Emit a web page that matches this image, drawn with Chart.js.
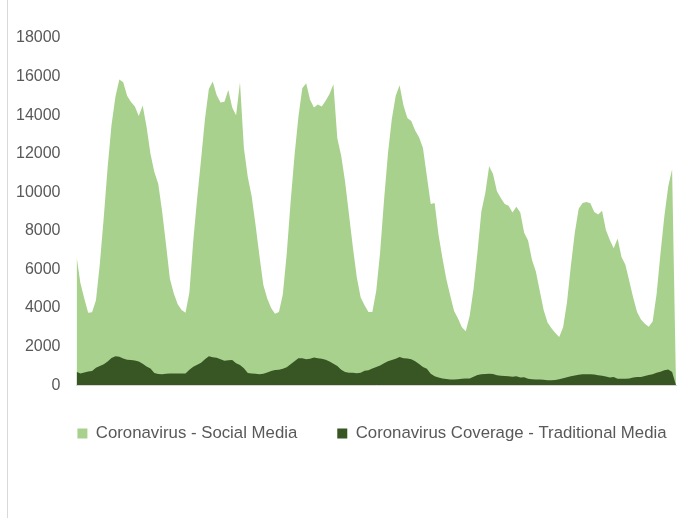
<!DOCTYPE html>
<html>
<head>
<meta charset="utf-8">
<script src="https://cdn.jsdelivr.net/npm/chart.js@4"></script>
<style>
  html, body { margin: 0; padding: 0; background: #fff; }
  #wrap { position: relative; width: 692px; height: 518px; }
  #edge { position: absolute; left: 7px; top: 0; width: 1px; height: 518px; background: #d9d9d9; }
</style>
</head>
<body>
<div id="wrap">
  <canvas id="chart" width="692" height="518"></canvas>
  <div id="edge"></div>
</div>
<script>
// hourly values (155 points, last one drops to 0)
const socialMedia = [
  6700, 5300, 4500, 3750, 3780, 4400, 6300, 8700, 11300, 13500,
  14950, 15850, 15700, 15000, 14680, 14450, 13950, 14500, 13400, 12000,
  11050, 10450, 9000, 7300, 5500, 4750, 4200, 3900, 3750, 4800,
  7500, 9700, 11700, 13800, 15350, 15750, 15050, 14650, 14700, 15300,
  14400, 14000, 15700, 12300, 10800, 9800, 8300, 6700, 5200, 4500,
  4000, 3700, 3800, 4700, 6800, 9500, 11900, 13900, 15400, 15650,
  14800, 14400, 14550, 14450, 14750, 15100, 15600, 12800, 11900, 10550,
  8850, 7150, 5600, 4550, 4150, 3800, 3800, 4900, 6900, 9600,
  12000, 13800, 15000, 15550, 14500, 13850, 13700, 13200, 12850, 12300,
  10850, 9400, 9450, 7800, 6600, 5500, 4650, 3850, 3460, 3000,
  2800, 3600, 5000, 6900, 9000, 9950, 11350, 10950, 10050, 9700,
  9400, 9300, 8950, 9250, 8950, 7900, 7500, 6500, 5900, 4900,
  3900, 3250, 2950, 2700, 2500, 3000, 4300, 6200, 7900, 9150,
  9450, 9500, 9430, 8980, 8850, 9050, 8040, 7530, 7100, 7600,
  6650, 6250, 5400, 4550, 3800, 3400, 3180, 3030, 3300, 4700,
  6800, 8750, 10300, 11200, 0
];
const traditionalMedia = [
  700, 610, 660, 710, 740, 900, 1000, 1090, 1230, 1410,
  1505, 1480, 1390, 1320, 1305, 1280, 1230, 1110, 970, 865,
  630, 575, 570, 590, 605, 605, 605, 605, 605, 800,
  960, 1060, 1170, 1340, 1500, 1450, 1420, 1350, 1265, 1295,
  1300, 1140, 1050, 875, 635, 610, 590, 572, 600, 660,
  730, 785, 805, 850, 935, 1080, 1240, 1400, 1400, 1340,
  1375, 1435, 1400, 1370, 1325, 1235, 1115, 1000, 800, 680,
  640, 640, 620, 640, 745, 775, 860, 940, 1020, 1140,
  1240, 1310, 1375, 1460, 1400, 1385, 1340, 1240, 1100, 940,
  850, 600, 470, 400, 350, 320, 295, 295, 305, 340,
  345, 350, 440, 530, 570, 575, 590, 580, 515, 490,
  475, 462, 435, 465, 405, 410, 330, 310, 295, 295,
  280, 262, 260, 265, 305, 355, 415, 460, 500, 545,
  570, 570, 562, 550, 515, 485, 455, 400, 420, 340,
  330, 335, 345, 405, 430, 430, 475, 525, 565, 640,
  700, 770, 815, 680, 0
];
const hours = socialMedia.map((_, i) => i + 1);
const seriesNames = ["Coronavirus - Social Media", "Coronavirus Coverage - Traditional Media"];
const yMax = 18000;
const yStep = 2000;

const textColor = "#595959";
const fontFamily = "'Liberation Sans', Arial, sans-serif";

// the legend sits a bit right of the canvas centre in the original
const shiftLegend = {
  id: "shiftLegend",
  afterLayout(chart) {
    chart.legend.left += 34;
    chart.legend.right += 34;
  }
};

const ctx = document.getElementById("chart").getContext("2d");
new Chart(ctx, {
  type: "line",
  data: {
    labels: hours,
    datasets: [
      {
        label: seriesNames[0],
        data: socialMedia,
        backgroundColor: "#a9d18e",
        borderColor: "#a9d18e",
        borderWidth: 0,
        pointRadius: 0,
        fill: "origin",
        order: 1 // drawn under the traditional media area
      },
      {
        label: seriesNames[1],
        data: traditionalMedia,
        backgroundColor: "#375623",
        borderColor: "#375623",
        borderWidth: 0,
        pointRadius: 0,
        fill: "origin",
        order: 0
      }
    ]
  },
  plugins: [shiftLegend],
  options: {
    responsive: false,
    animation: false,
    layout: { padding: { left: 0, right: 16, top: 38, bottom: 66 } },
    plugins: {
      tooltip: { enabled: false },
      legend: {
        position: "bottom",
        align: "center",
        labels: {
          boxWidth: 10,
          boxHeight: 10,
          padding: 40,
          color: textColor,
          font: { family: fontFamily, size: 16.8 },
          sort: (a, b) => a.datasetIndex - b.datasetIndex
        }
      }
    },
    scales: {
      x: {
        grid: { display: false, drawTicks: false },
        border: { display: true, color: "#d9d9d9", width: 1 },
        ticks: { display: false }
      },
      y: {
        min: 0,
        max: yMax,
        grid: { display: false, drawTicks: false },
        border: { display: false },
        ticks: {
          stepSize: yStep,
          padding: 16,
          color: textColor,
          font: { family: fontFamily, size: 16 },
          callback: v => String(v)
        }
      }
    }
  }
});
</script>
</body>
</html>
